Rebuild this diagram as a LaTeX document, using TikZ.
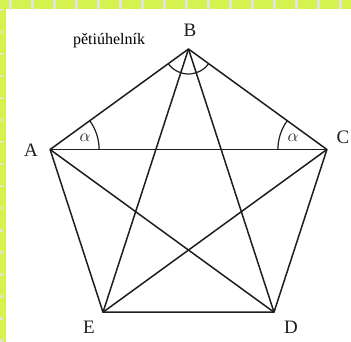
\documentclass[tikz,border=0pt]{standalone}
\usepackage{fontspec}
\setmainfont{Liberation Serif}
\usepackage{xcolor}
\usetikzlibrary{positioning}
\definecolor{limebar}{HTML}{D5F24E}
\definecolor{bargap}{HTML}{E2E4DC}
\definecolor{edgecol}{HTML}{1E1E1E}

\begin{document}
\begin{tikzpicture}[x=1pt, y=1pt,
        every node/.style={inner sep=0pt},
        vlabel/.style={font=\fontsize{19}{19}\selectfont, text=edgecol},
        anglabel/.style={font=\fontsize{18}{18}\selectfont, text=edgecol},
        edge/.style={draw=edgecol, line width=1.5pt, line join=round},
        angarc/.style={draw=edgecol, line width=1.2pt}]
        % frame and background
        \fill[white] (0,0) rectangle (351,-342);
        \fill[limebar] (0,0) rectangle (351,-9);
        \fill[limebar] (0,0) rectangle (6,-342);
        \foreach \x in {9,31,...,351} \fill[bargap] (\x,0) rectangle (\x+2.5,-9);
        \foreach \y in {9,31,...,342} \fill[bargap] (0,-\y) rectangle (3,-\y-2.5);
        \useasboundingbox (0,0) rectangle (351,-342);

        % vertices of the pentagon
        \coordinate (B) at (188.5,-49);
        \coordinate (A) at (50.1,-149.5);
        \coordinate (C) at (326.9,-149.5);
        \coordinate (E) at (103,-312.2);
        \coordinate (D) at (274,-312.2);

        \node[vlabel] (lA) at (31,-150) {A};
        \node[vlabel] (lB) at (190,-30) {B};
        \node[vlabel] (lC) at (343,-137) {C};
        \node[vlabel] (lE) at (89,-327) {E};
        \node[vlabel] (lD) at (291,-327) {D};
        \node[font=\fontsize{16}{16}\selectfont] (title) at (109,-41) {pětiúhelník};

        % sides and diagonals
        \draw[edge] (A) -- (B) -- (C) -- (D) -- (E) -- cycle;
        \draw[edge] (A) -- (C);
        \draw[edge] (A) -- (D);
        \draw[edge] (B) -- (D);
        \draw[edge] (B) -- (E);
        \draw[edge] (C) -- (E);

        % angle marks
        \draw[angarc] ([shift={(0:49)}]A) arc[start angle=0, end angle=36, radius=49];
        \draw[angarc] ([shift={(144:49)}]C) arc[start angle=144, end angle=180, radius=49];
        \draw[angarc] ([shift={(216:25)}]B) arc[start angle=216, end angle=324, radius=25];
        \node[anglabel] (alA) at (85,-138) {$\alpha$};
        \node[anglabel] (alC) at (293,-138) {$\alpha$};
    \end{tikzpicture}
\end{document}
